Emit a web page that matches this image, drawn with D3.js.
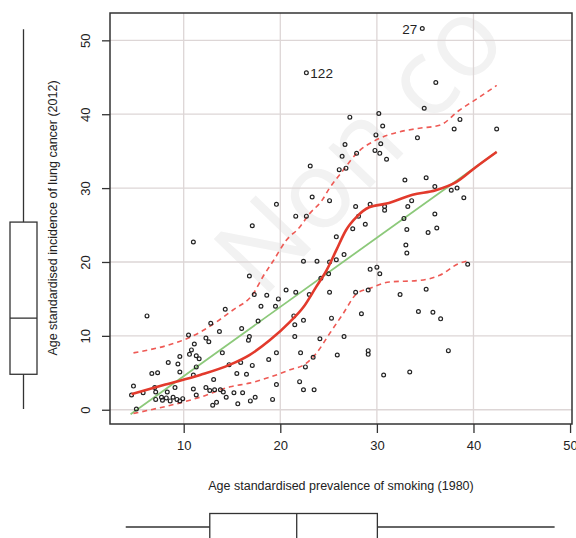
<!DOCTYPE html>
<html>
<head>
<meta charset="utf-8">
<script src="https://cdn.jsdelivr.net/npm/d3@7"></script>
<style>
  body { margin: 0; background: #fff; }
  svg { display: block; }
  text { font-family: "Liberation Sans", Arial, sans-serif; fill: #222; }
</style>
</head>
<body>
<script>
'use strict';

// smoking prevalence 1980 (x) and lung cancer incidence 2012 (y), one entry per country
const smokeX = [
  22.7, 27.2, 30.2, 30.6, 29.9, 26.7, 30.4, 26.4, 27.9, 29.8, 30.3, 31.0, 23.1, 26.1, 26.8, 23.3, 25.1, 34.7, 36.1, 34.9, 38.6, 38.0, 42.4, 34.2, 32.9, 35.1, 36.0, 37.7, 38.3, 39.0,
  19.6, 21.6, 22.7, 27.8, 28.1, 29.3, 30.8, 30.8, 17.1, 11.0, 28.8, 27.5, 25.8, 26.6, 22.4, 23.8, 25.1, 25.8, 29.3, 30.0, 30.3, 16.8, 24.2, 25.0, 20.6, 21.6, 23.0, 25.1, 27.8, 29.1,
  17.3, 18.6, 19.8, 18.0, 19.5, 14.3, 21.4, 22.4, 25.3, 28.4, 17.7, 12.8, 16.0, 21.5, 13.7, 16.8, 16.7, 21.5, 24.1, 26.6, 12.3, 12.6, 11.1, 10.8, 14.0, 19.6, 22.1, 25.9, 29.1, 29.1,
  11.3, 11.6, 18.8, 23.4, 15.9, 17.1, 14.7, 22.6, 11.3, 15.5, 16.5, 13.1, 30.7, 19.6, 22.0, 11.0, 12.3, 12.7, 13.2, 13.8, 14.1, 15.2, 16.1, 22.4, 23.5, 11.3, 14.4, 17.4, 16.9, 19.2,
  15.6, 13.4, 13.0, 6.2, 10.5, 10.6, 9.6, 8.4, 9.4, 9.6, 6.7, 7.3, 11.0, 4.8, 7.0, 5.8, 7.1, 4.6, 8.3, 9.1, 7.8, 8.2, 8.6, 8.9, 9.3, 9.6, 9.9, 7.7, 7.1, 5.1,
  33.6, 33.2, 36.0, 32.8, 33.1, 35.3, 36.2, 33.0, 33.1, 39.4, 35.1, 32.4, 34.3, 35.8, 36.6, 37.4, 33.4
];
const lungY = [
  45.6, 39.6, 40.1, 38.4, 37.2, 35.9, 36.0, 34.3, 34.7, 35.1, 34.7, 33.9, 33.0, 32.5, 32.7, 28.8, 28.3, 51.6, 44.3, 40.8, 39.3, 38.0, 38.0, 36.8, 31.1, 31.4, 30.2, 29.7, 30.0, 28.7,
  27.8, 26.2, 26.2, 27.5, 26.2, 27.8, 27.5, 27.0, 24.9, 22.7, 25.1, 24.5, 23.4, 21.0, 20.1, 20.1, 20.0, 20.3, 19.0, 19.3, 18.4, 18.1, 17.8, 18.4, 16.2, 15.9, 15.6, 15.9, 15.9, 16.2,
  15.6, 15.5, 15.0, 14.0, 14.0, 13.6, 12.7, 12.1, 12.4, 13.0, 12.0, 11.7, 11.0, 11.5, 10.6, 9.9, 9.4, 9.9, 9.6, 9.9, 9.7, 9.2, 8.9, 8.1, 7.7, 7.7, 7.7, 7.4, 8.0, 7.5,
  7.3, 6.9, 6.8, 7.1, 6.4, 6.0, 6.1, 5.8, 5.8, 4.9, 4.8, 4.1, 4.7, 3.4, 3.8, 2.8, 3.0, 2.6, 2.7, 2.7, 2.4, 2.3, 2.3, 2.7, 2.7, 2.0, 1.7, 1.7, 1.2, 1.4,
  0.8, 1.0, 0.6, 12.7, 10.1, 7.5, 7.2, 6.4, 6.2, 5.1, 4.9, 5.0, 4.7, 3.2, 3.0, 2.3, 2.4, 2.0, 2.4, 3.0, 1.3, 1.6, 1.2, 1.7, 1.4, 1.2, 1.5, 1.7, 1.4, 0.1,
  28.3, 27.5, 26.5, 25.9, 24.4, 24.0, 24.6, 22.3, 21.2, 19.7, 16.3, 15.6, 13.3, 13.2, 12.3, 8.0, 5.1
];

// labelled outliers
const labelNames = ["122", "27"];
const labelX = [22.7, 34.7];
const labelY = [45.6, 51.6];

// linear fit (green)
const fitX = [4.5, 42.4];
const fitY = [-0.6, 34.9];

// loess smoother (red) and spread lines (dashed)
const loessX = [4.6, 8.1, 11.7, 14.8, 16.8, 18.9, 21.0, 22.4, 23.7, 24.8, 25.8, 26.8, 27.9, 29.2, 31.0, 33.7, 36.1, 38.2, 40.3, 42.4];
const loessY = [2.1, 3.4, 4.7, 6.1, 7.4, 9.4, 11.9, 13.9, 16.6, 18.9, 21.6, 24.3, 26.1, 27.4, 27.9, 29.1, 29.7, 30.8, 32.9, 34.9];
const upperX = [4.8, 11.7, 15.1, 17.2, 18.2, 19.3, 20.6, 22.0, 23.0, 24.3, 25.1, 26.5, 27.9, 29.9, 32.3, 34.4, 36.5, 38.5, 40.6, 42.4];
const upperY = [7.7, 10.5, 13.5, 15.7, 18.0, 20.2, 22.9, 24.7, 26.5, 28.3, 30.0, 32.4, 34.7, 36.5, 37.6, 38.1, 38.5, 40.5, 42.3, 43.9];
const lowerX = [4.8, 11.7, 14.8, 16.8, 18.9, 21.0, 22.7, 23.7, 25.1, 26.5, 27.9, 29.2, 31.3, 34.4, 36.5, 38.5, 39.3];
const lowerY = [-0.5, 1.7, 3.1, 3.6, 4.4, 5.4, 6.3, 7.6, 10.3, 13.0, 15.7, 16.4, 17.3, 17.5, 18.2, 19.8, 20.1];

// marginal boxplots: min, q1, median, q3, max
const boxLung = [0.1, 4.8, 12.4, 25.4, 51.5];
const boxSmoke = [4.0, 12.7, 21.7, 30.05, 48.4];

const xTicks = [10, 20, 30, 40, 50];
const yTicks = [0, 10, 20, 30, 40, 50];

(function() {

  let width = 576;
  let height = 538;
  let svg = "";

  window.onload = function() {
    svg = d3.select('body')
      .append('svg')
      .attr('width', width)
      .attr('height', height);
    makeChart();
  }

  function makeChart() {
    // plot box is 110..572 x 13..424
    let x = d3.scaleLinear().domain([2.37, 50.2]).range([110, 572]);
    let y = d3.scaleLinear().domain([-1.93, 53.7]).range([424, 13]);

    // faint watermark, runs off the top right like in the source figure
    svg.append("text")
      .attr("transform", "translate(262,300) rotate(-46)")
      .style("font-size", "108px")
      .style("font-family", "Open Sans, sans-serif")
      .style("fill", "#f2f2f2")
      .text("Non co");

    // grid
    svg.append("g").selectAll("line")
      .data(xTicks.filter(d => d < 50))
      .enter().append("line")
        .attr("x1", d => x(d)).attr("x2", d => x(d))
        .attr("y1", 13).attr("y2", 424)
        .attr("stroke", "#ddd6d6").attr("stroke-width", 1.3);
    svg.append("g").selectAll("line")
      .data(yTicks)
      .enter().append("line")
        .attr("y1", d => y(d)).attr("y2", d => y(d))
        .attr("x1", 110).attr("x2", 572)
        .attr("stroke", "#ddd6d6").attr("stroke-width", 1.3);

    // axes
    let xAxis = d3.axisBottom(x).tickValues(xTicks).tickSize(9).tickPadding(8);
    let yAxis = d3.axisLeft(y).tickValues(yTicks).tickSize(8);

    let gx = svg.append("g")
      .attr("transform", "translate(0,424)")
      .call(xAxis);
    gx.select(".domain").remove();
    gx.selectAll("line").attr("stroke", "#333").attr("stroke-width", 1.3);
    gx.selectAll("text")
      .style("font-size", "13px")
      .style("font-family", "Liberation Sans, Arial, sans-serif")
      .attr("fill", "#222");

    let gy = svg.append("g")
      .attr("transform", "translate(110,0)")
      .call(yAxis);
    gy.select(".domain").remove();
    gy.selectAll("line").attr("stroke", "#333").attr("stroke-width", 1.3);
    gy.selectAll("text")
      .attr("x", 0).attr("dy", null)
      .attr("transform", "translate(-20,0) rotate(-90)")
      .style("text-anchor", "middle")
      .style("font-size", "13px")
      .style("font-family", "Liberation Sans, Arial, sans-serif")
      .attr("fill", "#222");

    // fitted lines
    let line = d3.line().x(d => x(d[0])).y(d => y(d[1]));
    let smooth = d3.line().x(d => x(d[0])).y(d => y(d[1])).curve(d3.curveMonotoneX);

    svg.append("path")
      .attr("d", line(d3.zip(fitX, fitY)))
      .attr("fill", "none").attr("stroke", "#8cc97a").attr("stroke-width", 1.8);

    svg.append("path")
      .attr("d", smooth(d3.zip(upperX, upperY)))
      .attr("fill", "none").attr("stroke", "#ee5a55").attr("stroke-width", 1.6)
      .attr("stroke-dasharray", "5,4");
    svg.append("path")
      .attr("d", smooth(d3.zip(lowerX, lowerY)))
      .attr("fill", "none").attr("stroke", "#ee5a55").attr("stroke-width", 1.6)
      .attr("stroke-dasharray", "5,4");

    // points
    svg.append("g").selectAll("circle")
      .data(d3.zip(smokeX, lungY))
      .enter().append("circle")
        .attr("cx", d => x(d[0]))
        .attr("cy", d => y(d[1]))
        .attr("r", 1.9)
        .attr("fill", "none")
        .attr("stroke", "#222")
        .attr("stroke-width", 1.2);

    svg.append("path")
      .attr("d", smooth(d3.zip(loessX, loessY)))
      .attr("fill", "none").attr("stroke", "#e23a2c").attr("stroke-width", 2.6);

    // outlier labels
    svg.append("text")
      .attr("x", x(labelX[0]) + 4)
      .attr("y", y(labelY[0]) + 5)
      .style("font-size", "13.5px")
      .text(labelNames[0]);
    svg.append("text")
      .attr("x", x(labelX[1]) - 5)
      .attr("y", y(labelY[1]) + 5)
      .style("text-anchor", "end")
      .style("font-size", "13.5px")
      .text(labelNames[1]);

    // plot border
    svg.append("rect")
      .attr("x", 110).attr("y", 13)
      .attr("width", 462).attr("height", 411)
      .attr("fill", "none").attr("stroke", "#333").attr("stroke-width", 1.5);

    // axis titles
    svg.append("text")
      .attr("x", 341).attr("y", 490)
      .style("text-anchor", "middle")
      .style("font-size", "12.5px")
      .text("Age standardised prevalence of smoking (1980)");

    svg.append("text")
      .attr("transform", "translate(57,218) rotate(-90)")
      .style("text-anchor", "middle")
      .style("font-size", "12.5px")
      .text("Age standardised incidence of lung cancer (2012)");

    // vertical boxplot on the left (same y scale)
    let bl = svg.append("g").attr("stroke", "#333").attr("stroke-width", 1.3).attr("fill", "none");
    bl.append("line").attr("x1", 23.5).attr("x2", 23.5).attr("y1", y(boxLung[4])).attr("y2", y(boxLung[3]));
    bl.append("line").attr("x1", 23.5).attr("x2", 23.5).attr("y1", y(boxLung[1])).attr("y2", y(boxLung[0]));
    bl.append("rect").attr("x", 10).attr("width", 27)
      .attr("y", y(boxLung[3])).attr("height", y(boxLung[1]) - y(boxLung[3]));
    bl.append("line").attr("x1", 10).attr("x2", 37).attr("y1", y(boxLung[2])).attr("y2", y(boxLung[2]));

    // horizontal boxplot at the bottom
    let bb = svg.append("g").attr("stroke", "#333").attr("stroke-width", 1.3).attr("fill", "none");
    bb.append("line").attr("y1", 527).attr("y2", 527).attr("x1", x(boxSmoke[0])).attr("x2", x(boxSmoke[1]));
    bb.append("line").attr("y1", 527).attr("y2", 527).attr("x1", x(boxSmoke[3])).attr("x2", x(boxSmoke[4]));
    bb.append("rect").attr("y", 513.5).attr("height", 30)
      .attr("x", x(boxSmoke[1])).attr("width", x(boxSmoke[3]) - x(boxSmoke[1]));
    bb.append("line").attr("y1", 513.5).attr("y2", 545).attr("x1", x(boxSmoke[2])).attr("x2", x(boxSmoke[2]));
  }

})();
</script>
</body>
</html>
